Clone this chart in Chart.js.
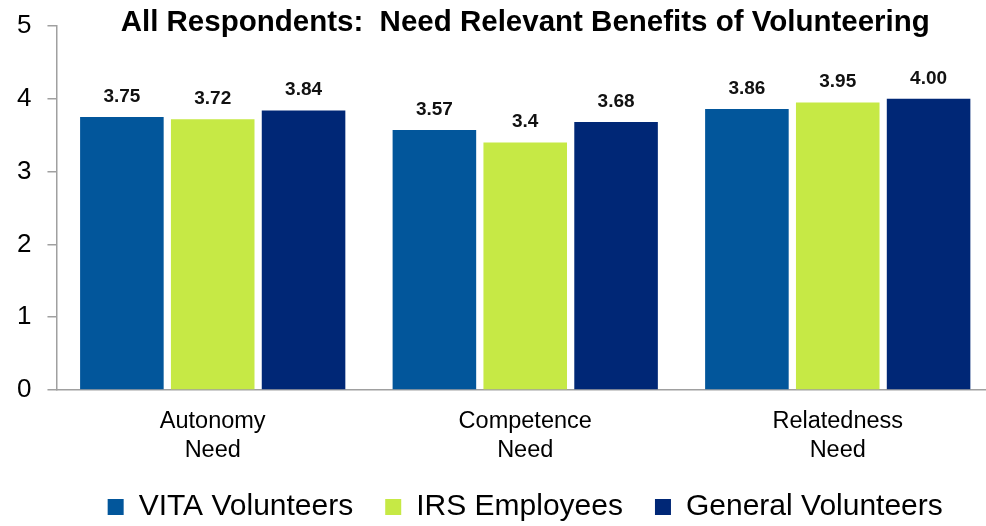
<!DOCTYPE html>
<html>
<head>
<meta charset="utf-8">
<script src="https://cdn.jsdelivr.net/npm/chart.js@4.4.1/dist/chart.umd.min.js"></script>
<style>
body{margin:0;background:#fff;overflow:hidden;}
canvas{display:block;}
</style>
</head>
<body>
<canvas id="chart" width="1000" height="526"></canvas>
<script>

let categories = [["Autonomy","Need"],["Competence","Need"],["Relatedness","Need"]];

let vitaValues = [3.75, 3.57, 3.86];
let irsValues = [3.72, 3.4, 3.95];
let generalValues = [3.84, 3.68, 4.00];

let vitaLabels = ["3.75","3.57","3.86"];
let irsLabels = ["3.72","3.4","3.95"];
let generalLabels = ["3.84","3.68","4.00"];

let seriesNames = ["VITA Volunteers","IRS Employees","General Volunteers"];
let yTicks = [0,1,2,3,4,5];

let titleText = "All Respondents:  Need Relevant Benefits of Volunteering";

let FONT = "'Liberation Sans', Arial, sans-serif";

/* value labels above bars */
let valueLabels = {
id:"valueLabels",
afterDatasetsDraw(chart){
let ctx = chart.ctx;
let texts = [vitaLabels, irsLabels, generalLabels];
ctx.save();
ctx.font = "bold 19px " + FONT;
ctx.fillStyle = "#111";
ctx.textAlign = "center";
ctx.textBaseline = "alphabetic";
chart.data.datasets.forEach((ds,i)=>{
chart.getDatasetMeta(i).data.forEach((bar,j)=>{
ctx.fillText(texts[i][j], bar.x, bar.y - 15);
});
});
ctx.restore();
}
};

/* title centred over the plot */
let plotTitle = {
id:"plotTitle",
afterDraw(chart){
let ctx = chart.ctx;
let a = chart.chartArea;
ctx.save();
ctx.font = "bold 29.5px " + FONT;
ctx.fillStyle = "#000";
ctx.textAlign = "center";
ctx.textBaseline = "alphabetic";
ctx.fillText(titleText, (a.left + a.right)/2, 31);
ctx.restore();
}
};

new Chart(document.getElementById("chart"),{

type:"bar",

data:{
labels:categories,
datasets:[
{label:seriesNames[0], data:vitaValues, backgroundColor:"#02569b"},
{label:seriesNames[1], data:irsValues, backgroundColor:"#c6e945"},
{label:seriesNames[2], data:generalValues, backgroundColor:"#002776"}
]
},

options:{
responsive:false,
animation:false,
categoryPercentage:0.872,
barPercentage:0.92,
layout:{
padding:{top:26, left:1, right:6, bottom:0}
},
plugins:{
title:{display:false},
tooltip:{enabled:false},
legend:{
position:"bottom",
fullSize:false,
maxHeight:66,
labels:{
boxWidth:16,
boxHeight:16,
padding:32,
color:"#000",
font:{family:FONT, size:30}
}
}
},
scales:{
x:{
grid:{display:true, drawOnChartArea:false, drawTicks:false},
border:{display:true, color:"#a0a0a0", width:1.5},
ticks:{
padding:17,
color:"#000",
maxRotation:0,
font:{family:FONT, size:23.5, lineHeight:1.23}
},
afterFit(axis){
axis.height = 70;
}
},
y:{
min:0,
max:5,
afterBuildTicks(axis){
axis.ticks = yTicks.map(v=>({value:v}));
},
afterFit(axis){
axis.paddingTop = 0;
axis.paddingBottom = 0;
},
grid:{display:true, drawOnChartArea:false, drawTicks:true, tickLength:9, color:"#a0a0a0", lineWidth:1.5},
border:{display:true, color:"#a0a0a0", width:1.5},
ticks:{
padding:16,
color:"#000",
font:{family:FONT, size:26}
}
}
}
},

plugins:[valueLabels, plotTitle]

});

</script>
</body>
</html>
